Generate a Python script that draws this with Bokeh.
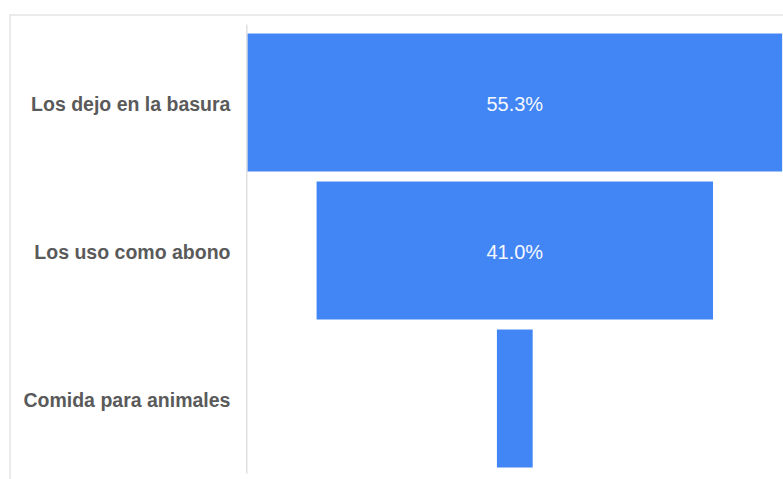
from bokeh.plotting import figure
from bokeh.models import ColumnDataSource, Range1d
from bokeh.core.properties import value
from bokeh.embed import file_html
from bokeh.resources import INLINE

# ---- data ----
categories = ["Los dejo en la basura", "Los uso como abono", "Comida para animales"]
values = [55.3, 41.0, 3.7]
value_labels = ["55.3%", "41.0%", ""]

# ---- layout constants (pixels) ----
W, H = 783, 479
BORDER_LEFT, BORDER_TOP = 9, 14
frame_w = W - BORDER_LEFT
frame_h = H - BORDER_TOP
px_per_unit = 534.7 / max(values)      # horizontal scale
center_px = 505.3                        # funnel centre within frame
band_px = 148.0                          # height of one category band
first_center_px = 88.0                   # centre of first band from frame top
bar_frac = 138.0 / band_px

x_start = -center_px / px_per_unit
x_end = (frame_w - center_px) / px_per_unit
y_top = -first_center_px / band_px
y_bottom = y_top + frame_h / band_px

idx = list(range(len(categories)))
src = ColumnDataSource(dict(
    y=idx,
    left=[-v / 2 for v in values],
    right=[v / 2 for v in values],
    mid=[0.0 for _ in values],
    cat=categories,
    lab=value_labels,
    labx=[-max(values) / 2 for _ in values],
))

p = figure(width=W, height=H, output_backend="svg", toolbar_location=None,
           x_range=Range1d(x_start, x_end), y_range=Range1d(y_bottom, y_top),
           x_axis_location=None, y_axis_location=None,
           min_border_left=BORDER_LEFT, min_border_top=BORDER_TOP,
           min_border_right=0, min_border_bottom=0)
p.grid.visible = False
p.outline_line_color = None
p.background_fill_color = "white"
p.border_fill_color = "white"

# chart box border (top and left edges; right/bottom lie outside the picture)
p.segment(x0=[x_start, x_start], y0=[y_top, y_top], x1=[x_end, x_start], y1=[y_top, y_bottom],
          line_color="#d8d8d8", line_width=2)

p.hbar(y="y", left="left", right="right", height=bar_frac, source=src,
       fill_color="#4285F4", line_color=None)

# vertical baseline at the left of the funnel
edge = -max(values) / 2 - 0.6 / px_per_unit
p.segment(x0=[edge], y0=[-0.5 - 4 / band_px], x1=[edge], y1=[len(values) - 0.5 + 1 / band_px],
          line_color="#d0d0d0", line_width=1)

# category labels
p.text(x="labx", y="y", text="cat", source=src, x_offset=-17, y_offset=1.5,
       text_align="right", text_baseline="middle",
       text_font=value("Liberation Sans"), text_font_style="bold",
       text_font_size="19.5px", text_color="#5a5a5a")

# value labels
p.text(x="mid", y="y", text="lab", source=src, y_offset=1.5,
       text_align="center", text_baseline="middle",
       text_font=value("Liberation Sans"), text_font_size="20px",
       text_color="#f4f8ff")

open("out.html", "w").write(file_html(p, INLINE))
